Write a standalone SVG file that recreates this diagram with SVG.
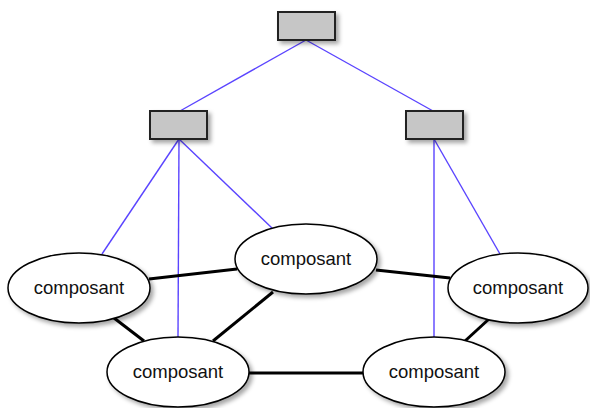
<svg xmlns="http://www.w3.org/2000/svg" width="590" height="408" viewBox="0 0 590 408">
<defs>
<filter id="sh" x="-20%" y="-20%" width="150%" height="160%">
<feDropShadow dx="3" dy="3" stdDeviation="2" flood-color="#000" flood-opacity="0.35"/>
</filter>
<style>
.box{fill:#c6c6c6;stroke:#222;stroke-width:2;}
.ell{fill:#fff;stroke:#000;stroke-width:1.5;}
.blue{stroke:#5a44ff;stroke-width:1.4;fill:none;}
.blk{stroke:#000;stroke-width:3;fill:none;}
.lbl{font-family:"Liberation Sans",Arial,sans-serif;font-size:18.5px;fill:#111;text-anchor:middle;}
</style>
</defs>
<rect width="590" height="408" fill="#fff"/>
<g id="connectors">
<line class="blue" x1="306" y1="40" x2="180" y2="111"/>
<line class="blue" x1="306" y1="40" x2="433" y2="111"/>
<line class="blue" x1="179" y1="139" x2="102" y2="254"/>
<line class="blue" x1="179" y1="139" x2="178" y2="337"/>
<line class="blue" x1="179" y1="139" x2="273" y2="229"/>
<line class="blue" x1="434" y1="139" x2="434" y2="337"/>
<line class="blue" x1="434" y1="139" x2="500" y2="254"/>
<line class="blk" x1="149" y1="279" x2="237" y2="269"/>
<line class="blk" x1="376" y1="270" x2="450" y2="278"/>
<line class="blk" x1="114" y1="318" x2="144" y2="341"/>
<line class="blk" x1="273" y1="292" x2="213" y2="341"/>
<line class="blk" x1="249" y1="373" x2="365" y2="373"/>
<line class="blk" x1="489" y1="319" x2="465" y2="341"/>
</g>
<g id="top"><rect class="box" x="278" y="12" width="57" height="28" filter="url(#sh)"/></g>
<g id="mid-left"><rect class="box" x="150" y="111" width="57" height="28" filter="url(#sh)"/></g>
<g id="mid-right"><rect class="box" x="406" y="111" width="57" height="28" filter="url(#sh)"/></g>
<g id="c1"><ellipse class="ell" cx="79" cy="288" rx="71" ry="35" filter="url(#sh)"/><text class="lbl" x="79" y="294">composant</text></g>
<g id="c2"><ellipse class="ell" cx="306" cy="259" rx="71" ry="35" filter="url(#sh)"/><text class="lbl" x="306" y="265">composant</text></g>
<g id="c3"><ellipse class="ell" cx="518" cy="288" rx="70" ry="35" filter="url(#sh)"/><text class="lbl" x="518" y="294">composant</text></g>
<g id="c4"><ellipse class="ell" cx="178" cy="372" rx="71" ry="35" filter="url(#sh)"/><text class="lbl" x="178" y="378">composant</text></g>
<g id="c5"><ellipse class="ell" cx="434" cy="372" rx="71" ry="35" filter="url(#sh)"/><text class="lbl" x="434" y="378">composant</text></g>
</svg>
